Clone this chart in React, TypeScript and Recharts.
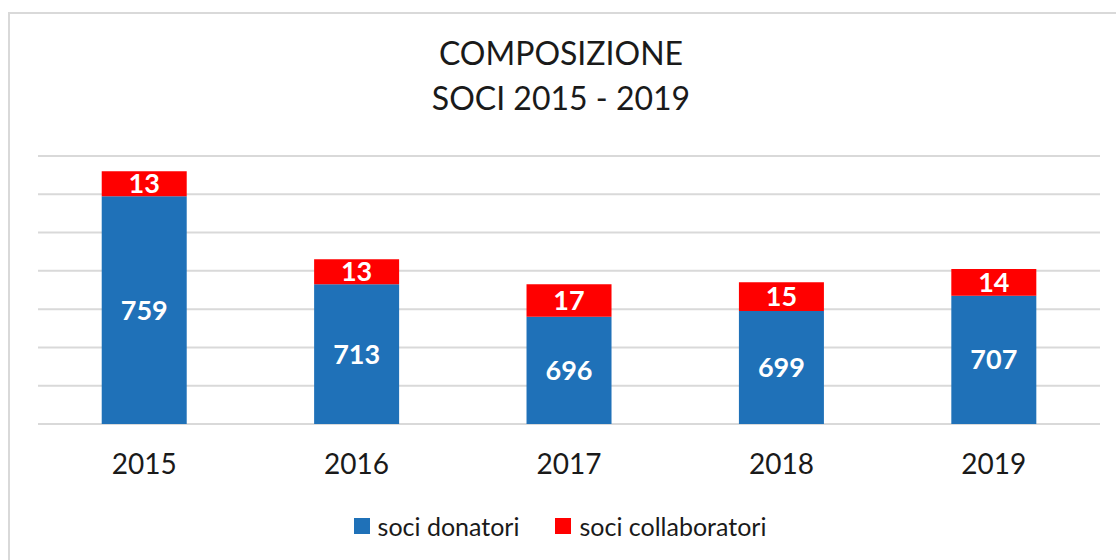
import { BarChart, Bar, XAxis, YAxis, CartesianGrid, LabelList } from 'recharts'

const YEARS = ['2015', '2016', '2017', '2018', '2019']
const DONATORI = [759, 713, 696, 699, 707]
const COLLABORATORI = [13, 13, 17, 15, 14]
const Y_TICKS = [640, 660, 680, 700, 720, 740, 760, 780]

const BLUE = '#1f71b8'
const RED = '#ff0000'
const FONT = 'Lato, "Open Sans", sans-serif'

const chartData = YEARS.map((year, i) => ({
  name: year,
  donatori: DONATORI[i],
  collaboratori: COLLABORATORI[i],
}))

export default function App() {
  return (
    <div
      style={{
        position: 'fixed',
        left: 0,
        top: 0,
        width: 1116,
        height: 560,
        background: '#fff',
        overflow: 'hidden',
        fontFamily: FONT,
      }}
    >
      {/* chart frame, runs off the right and bottom edges */}
      <div
        style={{
          position: 'absolute',
          left: 8,
          top: 12,
          width: 1130,
          height: 580,
          border: '2px solid #d9d9d9',
        }}
      />

      {/* title */}
      <div
        style={{
          position: 'absolute',
          left: 0,
          top: 30,
          width: 1122,
          textAlign: 'center',
          fontSize: 32,
          lineHeight: '45px',
          color: '#1a1a1a',
        }}
      >
        COMPOSIZIONE
        <br />
        SOCI 2015 - 2019
      </div>

      <div style={{ position: 'absolute', left: 0, top: 0 }}>
        <BarChart
          width={1116}
          height={560}
          data={chartData}
          margin={{ top: 156, right: 16, bottom: 76, left: 38 }}
          barCategoryGap="30%"
        >
          <CartesianGrid vertical={false} stroke="#d9d9d9" strokeWidth={2} />
          <YAxis hide domain={[640, 780]} ticks={Y_TICKS} allowDataOverflow />
          <XAxis
            dataKey="name"
            axisLine={false}
            tickLine={false}
            height={60}
            tickMargin={24}
            tick={{ fill: '#1a1a1a', fontSize: 28, fontFamily: FONT }}
          />
          <Bar dataKey="donatori" stackId="soci" fill={BLUE} isAnimationActive={false}>
            <LabelList
              dataKey="donatori"
              position="center"
              fill="#fff"
              fontSize={27}
              fontWeight="bold"
              fontFamily={FONT}
            />
          </Bar>
          <Bar dataKey="collaboratori" stackId="soci" fill={RED} isAnimationActive={false}>
            <LabelList
              dataKey="collaboratori"
              position="center"
              fill="#fff"
              fontSize={27}
              fontWeight="bold"
              fontFamily={FONT}
            />
          </Bar>
        </BarChart>
      </div>

      {/* legend */}
      <div
        style={{
          position: 'absolute',
          left: 0,
          top: 511,
          width: 1116,
          display: 'flex',
          justifyContent: 'center',
          alignItems: 'center',
          gap: 36,
          fontSize: 25,
          color: '#1a1a1a',
          paddingLeft: 4,
          boxSizing: 'border-box',
        }}
      >
        {[
          { label: 'soci donatori', color: BLUE },
          { label: 'soci collaboratori', color: RED },
        ].map((item) => (
          <div key={item.label} style={{ display: 'flex', alignItems: 'center', gap: 8 }}>
            <span style={{ width: 16, height: 16, background: item.color, display: 'inline-block' }} />
            <span>{item.label}</span>
          </div>
        ))}
      </div>
    </div>
  )
}
